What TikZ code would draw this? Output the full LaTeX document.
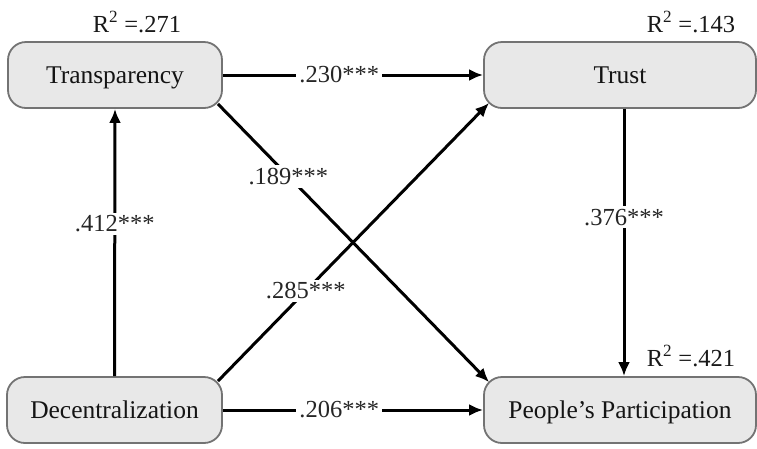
\documentclass[tikz,border=0pt]{standalone}
\usepackage{fontspec}
\setmainfont{Liberation Serif}
\usetikzlibrary{arrows.meta,calc}
\begin{document}
\begin{tikzpicture}[x=1pt,y=-1pt,
  box/.style={draw=black!55, line width=1.8pt, fill=black!9, rounded corners=18pt,
    minimum height=66pt, inner sep=0pt, text height=19pt, text depth=3pt,
    font=\fontsize{25.5}{30}\selectfont, text=black!92},
  conn/.style={line width=3pt, -{Latex[length=14pt,width=12pt]}},
  coef/.style={fill=white, inner sep=3pt, font=\fontsize{24.5}{28}\selectfont, text=black!85},
  rsq/.style={font=\fontsize{24.5}{28}\selectfont, anchor=base, text=black!90}]
\useasboundingbox (0,0) rectangle (757,448);
\node[box, minimum width=214pt] (tr) at (115,75) {Transparency};
\node[box, minimum width=272pt] (tu) at (620,75) {Trust};
\node[box, minimum width=215pt] (de) at (114.5,410) {Decentralization};
\node[box, minimum width=272pt] (pp) at (620,410) {People’s Participation};
\node[rsq] (r1) at (137,32) {R\textsuperscript{2} =.271};
\node[rsq] (r2) at (691,32) {R\textsuperscript{2} =.143};
\node[rsq] (r3) at (691,366) {R\textsuperscript{2} =.421};
\draw[conn] (tr.east) -- node[coef, pos=0.447] {.230***} (tu.west);
\draw[conn] (de.east) -- node[coef, pos=0.447] {.206***} (pp.west);
\draw[conn] (de.north) -- node[coef, pos=0.57] {.412***} (tr.south);
\draw[conn] ($(tu.south)+(4,0)$) -- node[coef, pos=0.405] {.376***} ($(pp.north)+(4,0)$);
\draw[conn] ($(tr.south east)+(-5,-5)$) -- node[coef, pos=0.26] {.189***} ($(pp.north west)+(6,6)$);
\draw[conn] ($(de.north east)+(-5,5)$) -- node[coef, pos=0.324] {.285***} ($(tu.south west)+(6,-6)$);
\end{tikzpicture}
\end{document}
